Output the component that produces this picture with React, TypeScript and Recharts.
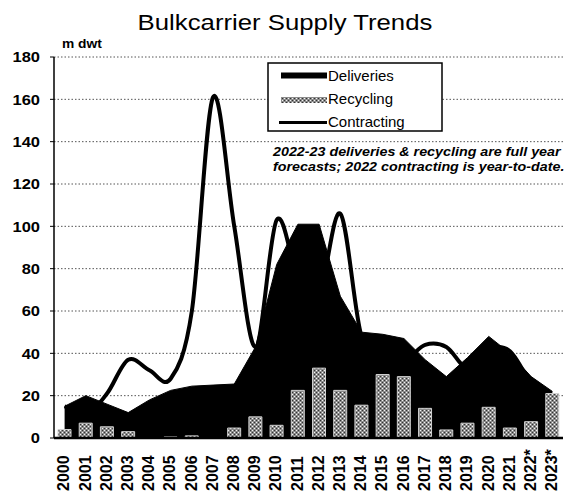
import { ComposedChart, Area, Bar, Line, XAxis, YAxis, CartesianGrid } from 'recharts'

const years = [
  '2000', '2001', '2002', '2003', '2004', '2005', '2006', '2007', '2008', '2009', '2010', '2011',
  '2012', '2013', '2014', '2015', '2016', '2017', '2018', '2019', '2020', '2021', '2022*', '2023*',
]
// m dwt
const deliveries = [15, 20, 16, 12, 18, 22.5, 24.5, 25, 25.5, 43, 82, 101, 101, 67, 50, 49, 47, 37, 29, 38, 48, 40, 29, 22]
const recycling = [4, 7, 5.3, 3, 0, 0.5, 1, 0, 4.7, 10, 6, 22.5, 33, 22.5, 15.5, 30, 29, 14, 3.8, 7, 14.5, 4.7, 7.7, 21]
const contracting = [15, 11, 21, 37, 32, 28, 60, 161, 100, 43, 103, 76, 68, 106, 48, 44, 37, 44, 43, 33, 42, 41, 25, null]
const yTicks = [0, 20, 40, 60, 80, 100, 120, 140, 160, 180]

const FONT = '"Liberation Sans", Arial, Helvetica, sans-serif'

const chartData = years.map((year, i) => ({
  year,
  deliveries: deliveries[i],
  recycling: recycling[i],
  contracting: contracting[i],
}))

// Excel-style smoothed line (uniform Catmull-Rom through the points)
function smoothCurve(context: any) {
  let pts: number[][] = []
  let line = NaN
  return {
    areaStart() { line = 0 },
    areaEnd() { line = NaN },
    lineStart() { pts = [] },
    lineEnd() {
      const n = pts.length
      if (n) {
        if (line) context.lineTo(pts[0][0], pts[0][1])
        else context.moveTo(pts[0][0], pts[0][1])
        for (let i = 0; i < n - 1; i++) {
          const p0 = pts[Math.max(i - 1, 0)]
          const p1 = pts[i]
          const p2 = pts[i + 1]
          const p3 = pts[Math.min(i + 2, n - 1)]
          context.bezierCurveTo(
            p1[0] + (p2[0] - p0[0]) / 6, p1[1] + (p2[1] - p0[1]) / 6,
            p2[0] - (p3[0] - p1[0]) / 6, p2[1] - (p3[1] - p1[1]) / 6,
            p2[0], p2[1],
          )
        }
      }
      if (line || (line !== 0 && n === 1)) context.closePath()
      line = 1 - line
    },
    point(x: number, y: number) { pts.push([+x, +y]) },
  }
}

function YTick({ x, y, payload }: any) {
  return (
    <text
      transform={`translate(${x},${y}) scale(1.1,1)`}
      textAnchor="end"
      dy="0.36em"
      fontSize={15}
      fontWeight="bold"
      fontFamily={FONT}
      fill="#000"
    >
      {payload.value}
    </text>
  )
}

function XTick({ x, y, payload }: any) {
  return (
    <text
      transform={`translate(${x - 1},${y + 45}) rotate(-90)`}
      textAnchor="start"
      dy="0.36em"
      fontSize={16}
      fontWeight="bold"
      fontFamily={FONT}
      fill="#000"
    >
      {payload.value}
    </text>
  )
}

export default function App() {
  return (
    <div style={{ position: 'absolute', left: 0, top: 0, width: 565, height: 497, background: '#fff' }}>
      <svg width={0} height={0} style={{ position: 'absolute' }}>
        <defs>
          <pattern id="recycPat" width={4} height={4} patternUnits="userSpaceOnUse">
            <rect width={4} height={4} fill="#8c8c8c" />
            <rect x={0} y={0} width={1} height={1} fill="#333" />
            <rect x={2} y={2} width={1} height={1} fill="#333" />
            <rect x={2} y={0} width={1} height={1} fill="#f4f4f4" />
            <rect x={0} y={2} width={1} height={1} fill="#f4f4f4" />
          </pattern>
        </defs>
      </svg>

      <ComposedChart
        width={565}
        height={497}
        data={chartData}
        margin={{ top: 57, right: 2, bottom: 0, left: 0 }}
      >
        <CartesianGrid vertical={false} stroke="#555" strokeDasharray="1.5 2" />
        <XAxis
          dataKey="year"
          height={59}
          interval={0}
          tickLine={false}
          axisLine={{ stroke: '#000', strokeWidth: 2.5 }}
          tick={<XTick />}
        />
        <YAxis
          width={54}
          domain={[0, 180]}
          ticks={yTicks}
          tickSize={4}
          tickMargin={10}
          axisLine={{ stroke: '#000', strokeWidth: 1.5 }}
          tickLine={{ stroke: '#000' }}
          tick={<YTick />}
        />
        <Area
          dataKey="deliveries"
          type="linear"
          fill="#000"
          fillOpacity={1}
          stroke="#000"
          strokeWidth={1}
          isAnimationActive={false}
        />
        <Bar
          dataKey="recycling"
          barSize={13}
          fill="url(#recycPat)"
          stroke="#d0d0d0"
          strokeWidth={1}
          isAnimationActive={false}
        />
        <Line
          dataKey="contracting"
          type={smoothCurve as any}
          stroke="#000"
          strokeWidth={4}
          dot={false}
          activeDot={false}
          isAnimationActive={false}
        />
      </ComposedChart>

      <svg
        width={565}
        height={497}
        style={{ position: 'absolute', left: 0, top: 0, pointerEvents: 'none' }}
        fontFamily={FONT}
      >
        <text transform="translate(285,30) scale(1.12,1)" textAnchor="middle" fontSize={23} fill="#000">
          Bulkcarrier Supply Trends
        </text>
        <text transform="translate(62,48) scale(1.15,1)" fontSize={12} fontWeight="bold" fill="#000">
          m dwt
        </text>

        <rect x={268} y={63} width={174} height={68} fill="#fff" stroke="#000" strokeWidth={1.5} />
        <rect x={281} y={72.5} width={46} height={6} fill="#000" />
        <text x={328} y={80.5} fontSize={15} fill="#000">Deliveries</text>
        <rect x={281} y={97} width={46} height={6} fill="url(#recycPat)" />
        <text x={328} y={103.5} fontSize={15} fill="#000">Recycling</text>
        <line x1={279} x2={327} y1={122.5} y2={122.5} stroke="#000" strokeWidth={3} />
        <text x={328} y={127} fontSize={15} fill="#000">Contracting</text>

        <text transform="translate(273,156) scale(1.1,1)" fontSize={13} fontWeight="bold" fontStyle="italic" fill="#000">
          2022-23 deliveries &amp; recycling are full year
        </text>
        <text transform="translate(273,171) scale(1.1,1)" fontSize={13} fontWeight="bold" fontStyle="italic" fill="#000">
          forecasts; 2022 contracting is year-to-date.
        </text>
      </svg>
    </div>
  )
}
